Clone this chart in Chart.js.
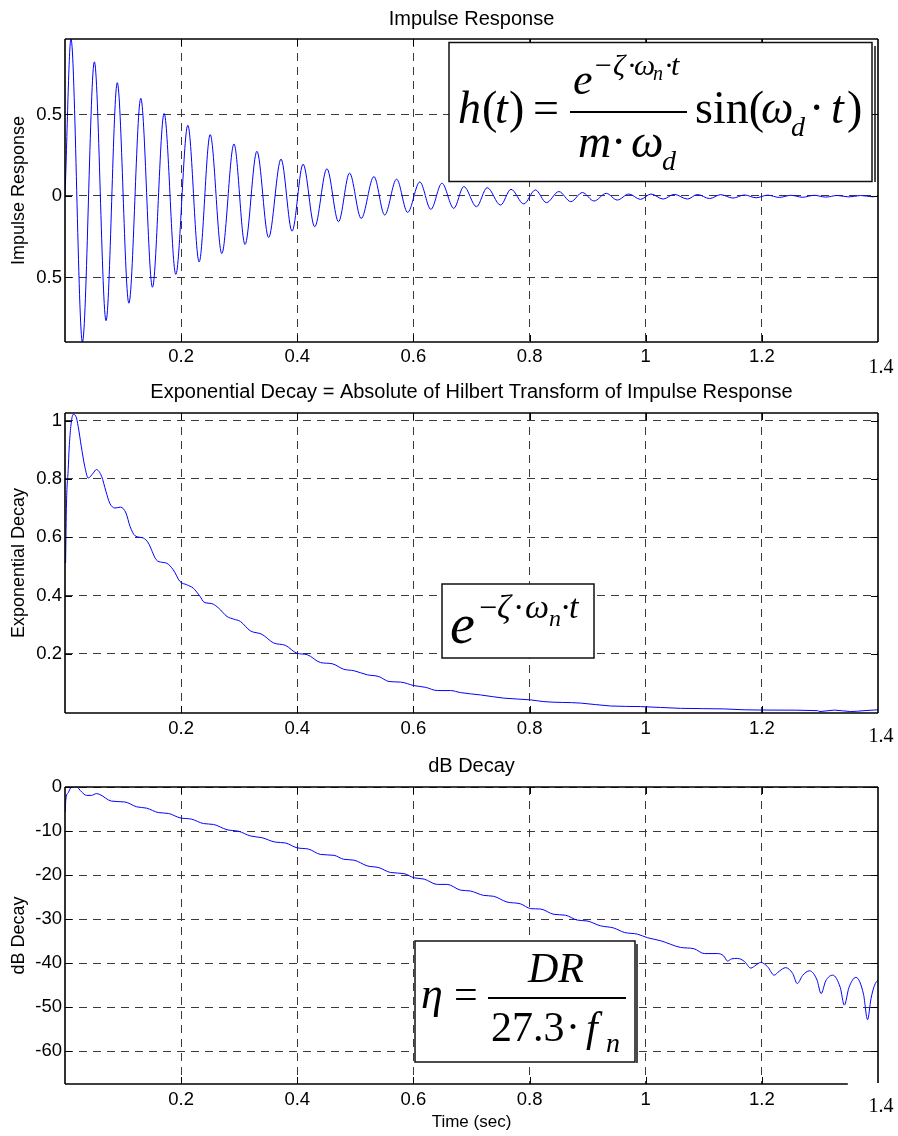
<!DOCTYPE html>
<html><head><meta charset="utf-8">
<script src="https://cdn.jsdelivr.net/npm/chart.js@4/dist/chart.umd.min.js"></script>
<style>
html,body{margin:0;padding:0;background:#fff;}
#wrap{position:relative;width:898px;height:1136px;overflow:hidden;background:#fff}
canvas{position:absolute;left:0}
</style></head><body>
<div id="wrap">
<canvas id="c1" width="898" height="376" style="top:0px"></canvas>
<canvas id="c2" width="898" height="372" style="top:376px"></canvas>
<canvas id="c3" width="898" height="388" style="top:748px"></canvas>
</div>
<script>
// ---------- data ----------
const xTickValues = [0.2, 0.4, 0.6, 0.8, 1.0, 1.2];
const xTickLabels = ['0.2', '0.4', '0.6', '0.8', '1', '1.2'];
const xEndLabel = '1.4';

const impulseTicks = [-0.5, 0, 0.5];
const impulseTickLabels = ['0.5', '0', '0.5'];
const impulseTime = [0, 0.0103, 0.030, 0.0506, 0.0707, 0.090, 0.110, 0.1305, 0.1506, 0.1707, 0.1908, 0.2115, 0.231, 0.25, 0.270, 0.291, 0.310, 0.3305, 0.3506, 0.372, 0.391, 0.41, 0.430, 0.451, 0.471, 0.49, 0.510, 0.532, 0.5505, 0.571, 0.590, 0.611, 0.630, 0.649, 0.6695, 0.6868, 0.7086, 0.727, 0.75, 0.768, 0.790, 0.810, 0.829, 0.8505, 0.871, 0.891, 0.911, 0.932, 0.951, 0.971, 0.991, 1.009, 1.030, 1.049, 1.072, 1.089, 1.11, 1.129, 1.15, 1.17, 1.19, 1.21, 1.23, 1.25, 1.27, 1.29, 1.31, 1.33, 1.35, 1.37, 1.39, 1.4];
const impulseValue = [0, 0.963, -0.896, 0.823, -0.765, 0.695, -0.658, 0.599, -0.560, 0.506, -0.481, 0.434, -0.405, 0.377, -0.354, 0.319, -0.298, 0.274, -0.255, 0.226, -0.216, 0.195, -0.189, 0.167, -0.158, 0.140, -0.138, 0.119, -0.117, 0.103, -0.101, 0.086, -0.082, 0.078, -0.076, 0.058, -0.066, 0.051, -0.056, 0.041, -0.049, 0.037, -0.041, 0.027, -0.035, 0.021, -0.031, 0.016, -0.025, 0.012, -0.021, 0.012, -0.019, 0.010, -0.019, 0.009, -0.016, 0.008, -0.013, 0.006, -0.011, 0.005, -0.009, 0.004, -0.008, 0.004, -0.007, 0.003, -0.006, 0.003, -0.005, -0.002];

const envTicks = [0.2, 0.4, 0.6, 0.8, 1];
const envTickLabels = ['0.2', '0.4', '0.6', '0.8', '1'];
const envTime = [0.001, 0.0026, 0.0055, 0.0072, 0.010, 0.014, 0.0187, 0.0227, 0.028, 0.034, 0.040, 0.0486, 0.054, 0.063, 0.0705, 0.077, 0.086, 0.0958, 0.105, 0.112, 0.1206, 0.135, 0.1435, 0.157, 0.1666, 0.175, 0.1865, 0.198, 0.2095, 0.221, 0.2325, 0.2395, 0.253, 0.2645, 0.279, 0.2905, 0.302, 0.319, 0.339, 0.3595, 0.3795, 0.3995, 0.417, 0.44, 0.46, 0.48, 0.4975, 0.5205, 0.5405, 0.558, 0.578, 0.601, 0.621, 0.641, 0.664, 0.681, 0.7155, 0.7557, 0.8017, 0.8247, 0.888, 0.9397, 0.991, 1.060, 1.135, 1.1695, 1.221, 1.296, 1.30, 1.3247, 1.353, 1.376, 1.4];
const envValue = [0.511, 0.717, 0.832, 0.906, 0.980, 1.021, 1.015, 0.980, 0.912, 0.843, 0.803, 0.820, 0.832, 0.809, 0.757, 0.717, 0.700, 0.703, 0.683, 0.637, 0.605, 0.597, 0.580, 0.523, 0.514, 0.511, 0.488, 0.448, 0.437, 0.425, 0.397, 0.377, 0.372, 0.357, 0.328, 0.319, 0.311, 0.279, 0.267, 0.237, 0.229, 0.202, 0.197, 0.170, 0.166, 0.147, 0.142, 0.128, 0.122, 0.105, 0.103, 0.091, 0.085, 0.074, 0.074, 0.067, 0.059, 0.048, 0.042, 0.036, 0.031, 0.021, 0.019, 0.013, 0.011, 0.008, 0.007, 0.005, 0.002, 0.007, 0.002, 0.005, 0.008];

const dbTicks = [-60, -50, -40, -30, -20, -10, 0];
const dbTickLabels = ['-60', '-50', '-40', '-30', '-20', '-10', '0'];
const dbTime = [0.0005, 0.0013, 0.0055, 0.0112, 0.0198, 0.0285, 0.037, 0.0457, 0.054, 0.060, 0.080, 0.103, 0.1235, 0.1406, 0.1607, 0.178, 0.198, 0.218, 0.2385, 0.2558, 0.279, 0.299, 0.319, 0.339, 0.362, 0.3795, 0.3995, 0.4196, 0.44, 0.463, 0.48, 0.4975, 0.5205, 0.5405, 0.5607, 0.5835, 0.601, 0.6185, 0.641, 0.658, 0.681, 0.698, 0.721, 0.738, 0.761, 0.784, 0.802, 0.819, 0.842, 0.862, 0.882, 0.899, 0.922, 0.945, 0.963, 0.986, 1.003, 1.026, 1.060, 1.083, 1.101, 1.124, 1.134, 1.141, 1.148, 1.158, 1.17, 1.181, 1.19, 1.198, 1.21, 1.221, 1.23, 1.241, 1.253, 1.261, 1.27, 1.282, 1.295, 1.302, 1.31, 1.322, 1.335, 1.342, 1.35, 1.362, 1.375, 1.382, 1.388, 1.394, 1.4];
const dbValue = [-5.67, -3.0, -1.3, 0, 0, -1.1, -1.9, -1.9, -1.5, -1.7, -3.2, -3.4, -4.5, -4.8, -5.8, -6.0, -7.0, -7.3, -8.3, -8.5, -9.7, -10.05, -11.1, -11.5, -12.5, -12.7, -13.8, -14.1, -15.3, -15.5, -16.4, -16.6, -17.9, -18.3, -19.4, -19.65, -20.6, -20.9, -22.1, -22.1, -23.4, -23.6, -24.6, -24.8, -26.1, -26.5, -27.6, -27.7, -28.9, -29.1, -30.2, -30.4, -31.5, -32.0, -33.0, -33.4, -34.2, -34.9, -36.4, -36.7, -37.8, -37.8, -38.3, -39.5, -39.0, -38.9, -39.6, -41.1, -40.4, -39.8, -40.8, -42.7, -41.8, -41.0, -42.3, -44.6, -42.8, -41.7, -43.8, -46.9, -44.0, -42.7, -45.5, -49.5, -45.5, -43.2, -47.0, -52.8, -48.0, -45.0, -43.8];

// ---------- styling ----------
const SANS = '"Liberation Sans", Arial, Helvetica, sans-serif';
const SERIF = '"Liberation Serif", "Times New Roman", serif';
const GRID = '#3a3a3a';

function serifFont(size, italic) {
  return (italic ? 'italic ' : '') + size + 'px ' + SERIF;
}
function txt(ctx, t, x, y, size, italic) {
  ctx.font = serifFont(size, italic);
  ctx.fillText(t, x, y);
}
function box(ctx, x1, y1, x2, y2) {
  ctx.fillStyle = '#fff';
  ctx.fillRect(x1, y1, x2 - x1, y2 - y1);
  ctx.strokeStyle = '#111';
  ctx.lineWidth = 1.5;
  ctx.strokeRect(x1, y1, x2 - x1, y2 - y1);
  ctx.fillStyle = '#000';
}
function hline(ctx, x1, x2, y, w) {
  ctx.beginPath(); ctx.lineWidth = w; ctx.strokeStyle = '#000';
  ctx.moveTo(x1, y); ctx.lineTo(x2, y); ctx.stroke();
}

const formula1 = (ctx) => {
  box(ctx, 449, 42.5, 872, 181.5);
  ctx.beginPath(); ctx.lineWidth = 1.5; ctx.moveTo(875, 46); ctx.lineTo(875, 182); ctx.stroke();
  ctx.fillStyle = '#000'; ctx.textAlign = 'left'; ctx.textBaseline = 'alphabetic';
  txt(ctx, 'h', 458, 123, 46, true);
  txt(ctx, '(', 482, 123, 46, false);
  txt(ctx, 't', 495, 123, 46, true);
  txt(ctx, ')', 509, 123, 46, false);
  txt(ctx, '=', 533, 123, 46, false);
  hline(ctx, 570, 687, 112, 2);
  txt(ctx, 'e', 573, 94, 44, true);
  txt(ctx, '\u2212', 595, 75, 30, false);
  txt(ctx, '\u03B6', 613, 75, 30, true);
  txt(ctx, '\u00B7', 627, 75, 30, false);
  txt(ctx, '\u03C9', 634, 75, 30, true);
  txt(ctx, 'n', 653, 80, 20, true);
  txt(ctx, '\u00B7', 664, 75, 30, false);
  txt(ctx, 't', 671, 75, 30, true);
  txt(ctx, 'm', 578, 157, 46, true);
  txt(ctx, '\u00B7', 611, 157, 46, false);
  txt(ctx, '\u03C9', 631, 157, 46, true);
  txt(ctx, 'd', 662, 170, 28, true);
  txt(ctx, 'sin(', 695, 123, 46, false);
  txt(ctx, '\u03C9', 761, 123, 46, true);
  txt(ctx, 'd', 791, 136, 28, true);
  txt(ctx, '\u00B7', 809, 123, 46, false);
  txt(ctx, 't', 831, 123, 46, true);
  txt(ctx, ')', 847, 123, 46, false);
};
const formula2 = (ctx) => {
  const o = 376;
  box(ctx, 442, 584 - o, 594, 658 - o);
  ctx.fillStyle = '#000'; ctx.textAlign = 'left'; ctx.textBaseline = 'alphabetic';
  txt(ctx, 'e', 450, 643 - o, 56, true);
  txt(ctx, '\u2212', 479, 618 - o, 32, false);
  txt(ctx, '\u03B6', 497, 618 - o, 34, true);
  txt(ctx, '\u00B7', 513, 618 - o, 34, false);
  txt(ctx, '\u03C9', 525, 618 - o, 34, true);
  txt(ctx, 'n', 549, 626 - o, 24, true);
  txt(ctx, '\u00B7', 560, 618 - o, 34, false);
  txt(ctx, 't', 569, 618 - o, 34, true);
};
const formula3 = (ctx) => {
  const o = 748;
  box(ctx, 415, 941 - o, 635, 1062 - o);
  ctx.beginPath(); ctx.lineWidth = 1.5; ctx.moveTo(637, 944 - o); ctx.lineTo(637, 1063 - o); ctx.stroke();
  ctx.fillStyle = '#000'; ctx.textAlign = 'left'; ctx.textBaseline = 'alphabetic';
  txt(ctx, '\u03B7', 421, 1008 - o, 44, true);
  txt(ctx, '=', 454, 1008 - o, 42, false);
  hline(ctx, 488, 626, 998 - o, 2);
  txt(ctx, 'DR', 528, 982 - o, 42, true);
  txt(ctx, '27.3', 491, 1041 - o, 42, false);
  txt(ctx, '\u00B7', 566, 1041 - o, 42, false);
  txt(ctx, 'f', 586, 1041 - o, 42, true);
  txt(ctx, 'n', 606, 1052 - o, 28, true);
};

function framePlugin(cfg) {
  return {
    id: 'frame' + cfg.id,
    afterDatasetsDraw(chart) {
      const { ctx, chartArea: a, scales } = chart;
      ctx.save();
      ctx.strokeStyle = '#000';
      ctx.lineWidth = 1;
      ctx.beginPath();
      for (const v of xTickValues) {
        const px = Math.round(scales.x.getPixelForValue(v)) + 0.5;
        ctx.moveTo(px, a.top); ctx.lineTo(px, a.top + 7);
        ctx.moveTo(px, a.bottom); ctx.lineTo(px, a.bottom - 7);
      }
      for (const v of cfg.yTicks) {
        const py = Math.round(scales.y.getPixelForValue(v)) + 0.5;
        ctx.moveTo(a.left, py); ctx.lineTo(a.left + 7, py);
        ctx.moveTo(a.right, py); ctx.lineTo(a.right - 7, py);
      }
      ctx.stroke();
      ctx.lineWidth = 1.6;
      ctx.beginPath();
      ctx.moveTo(a.left, a.top); ctx.lineTo(a.right, a.top);
      ctx.moveTo(a.left, a.top); ctx.lineTo(a.left, a.bottom);
      const bx = cfg.bottomEnd ? scales.x.getPixelForValue(cfg.bottomEnd) : a.right;
      ctx.moveTo(a.left, a.bottom); ctx.lineTo(bx, a.bottom);
      ctx.moveTo(a.right, a.top); ctx.lineTo(a.right, a.bottom - (cfg.rightShort || 0));
      ctx.stroke();
      ctx.restore();
    },
    afterDraw(chart) {
      const { ctx, scales } = chart;
      ctx.save();
      ctx.fillStyle = '#000';
      ctx.font = '20px ' + SERIF;
      ctx.textAlign = 'center';
      ctx.textBaseline = 'alphabetic';
      ctx.fillText(xEndLabel, scales.x.getPixelForValue(1.4) + 3, cfg.endLabelY);
      ctx.textAlign = 'left';
      cfg.formula(ctx);
      ctx.restore();
    }
  };
}

function makeChart(cfg) {
  const points = cfg.t.map((t, i) => ({ x: t, y: cfg.v[i] }));
  return new Chart(document.getElementById(cfg.id), {
    type: 'line',
    data: { datasets: [{
      data: points, borderColor: '#0000ff', borderWidth: 1, pointRadius: 0, fill: false,
      tension: 0.4, cubicInterpolationMode: 'monotone'
    }] },
    options: {
      responsive: false, animation: false, devicePixelRatio: 1,
      layout: { padding: { left: 0, right: 20, top: 0, bottom: 0 } },
      plugins: {
        legend: { display: false }, tooltip: { enabled: false },
        title: { display: true, fullSize: false, text: cfg.title, color: '#000',
          font: { family: SANS, size: 20, weight: 'normal', lineHeight: 1.2 },
          padding: { top: cfg.tpt, bottom: cfg.tpb } }
      },
      scales: {
        x: {
          type: 'linear', min: 0, max: 1.4,
          afterBuildTicks: s => { s.ticks = xTickValues.map(v => ({ value: v })); },
          afterFit: s => { s.height = cfg.xh; },
          grid: { color: GRID, lineWidth: 1, drawTicks: false },
          border: { display: false, dash: [8, 6] },
          ticks: { color: '#000', font: { family: SANS, size: 18.5 }, padding: cfg.xpad,
            maxRotation: 0, autoSkip: false, callback: (v, i) => xTickLabels[i] },
          title: cfg.xtitle ? { display: true, text: cfg.xtitle, color: '#000',
            font: { family: SANS, size: 17, lineHeight: 1.2 }, padding: { top: 0, bottom: 3 } } : { display: false }
        },
        y: {
          type: 'linear', min: cfg.ymin, max: cfg.ymax,
          afterBuildTicks: s => { s.ticks = cfg.yTicks.map(v => ({ value: v })); },
          afterFit: s => { s.width = 65; },
          grid: { color: GRID, lineWidth: 1, drawTicks: false },
          border: { display: false, dash: [8, 6] },
          ticks: { color: '#000', font: { family: SANS, size: 18.5 }, padding: 3,
            autoSkip: false, callback: (v, i) => cfg.yLabels[i] },
          title: { display: true, text: cfg.ytitle, color: '#000',
            font: { family: SANS, size: 18, lineHeight: 1.2 }, padding: { top: 8.5, bottom: 0 } }
        }
      }
    },
    plugins: [framePlugin(cfg)]
  });
}

makeChart({ id: 'c1', t: impulseTime, v: impulseValue,
  title: 'Impulse Response', tpt: 7, tpb: 8, xh: 34, xpad: 3.5,
  ymin: -0.896, ymax: 0.963, yTicks: impulseTicks, yLabels: impulseTickLabels,
  ytitle: 'Impulse Response', endLabelY: 373, formula: formula1 });

makeChart({ id: 'c2', t: envTime, v: envValue,
  title: 'Exponential Decay = Absolute of Hilbert Transform of Impulse Response', tpt: 4, tpb: 9, xh: 35, xpad: 4.5,
  ymin: -0.003, ymax: 1.026, yTicks: envTicks, yLabels: envTickLabels,
  ytitle: 'Exponential Decay', endLabelY: 366, formula: formula2 });

makeChart({ id: 'c3', t: dbTime, v: dbValue,
  title: 'dB Decay', tpt: 6, tpb: 9, xh: 52, xpad: 5,
  ymin: -67.4, ymax: 0, yTicks: dbTicks, yLabels: dbTickLabels,
  ytitle: 'dB Decay', xtitle: 'Time (sec)', endLabelY: 364, formula: formula3,
  bottomEnd: 1.348, rightShort: 1 });
</script>
</body></html>
